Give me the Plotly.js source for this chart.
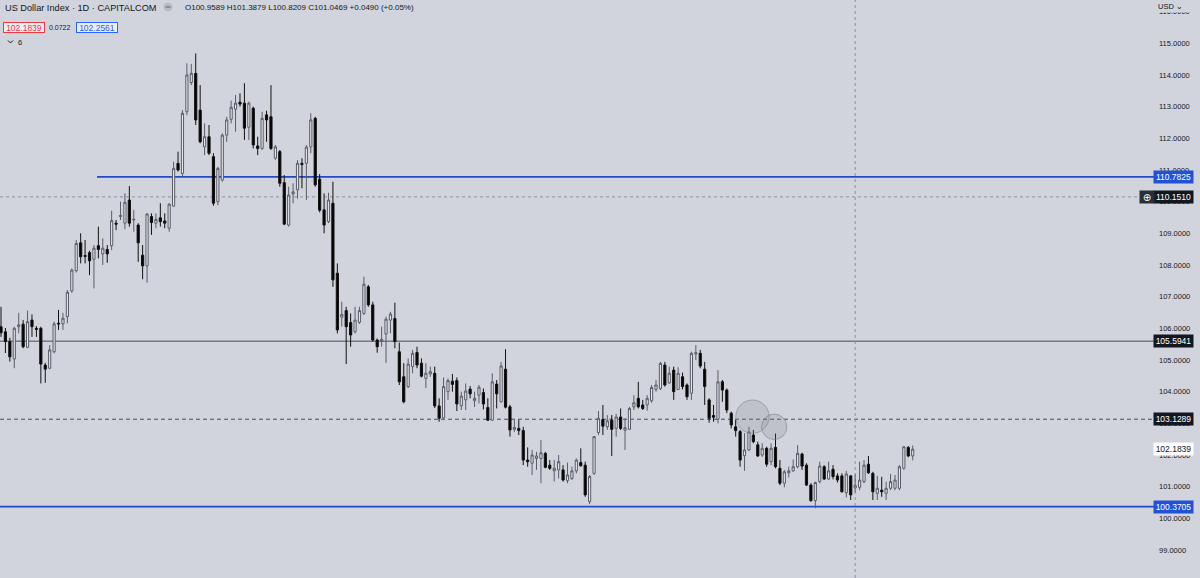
<!DOCTYPE html>
<html>
<head>
<meta charset="utf-8">
<script src="https://cdn.plot.ly/plotly-3.0.1.min.js"></script>
<style>
html,body{margin:0;padding:0;background:#d1d4dc;overflow:hidden;}
#chart{width:1200px;height:578px;}
</style>
</head>
<body>
<div id="chart"></div>
<script>
// ---- Data (daily candles) ----
const openP = [
106.05,105.89,105.58,105.03,106.05,106.13,105.40,106.26,106.00,106.00,
104.84,104.74,105.26,106.16,106.14,106.37,107.18,107.82,108.70,108.30,
108.39,108.18,108.61,108.35,108.49,108.61,109.32,109.53,109.32,110.05,
109.42,109.26,108.31,107.97,109.53,109.32,109.49,109.39,109.16,109.86,
111.21,110.89,112.84,113.76,114.05,112.89,111.73,112.05,111.42,110.00,
110.68,112.10,112.60,112.92,113.14,113.11,112.35,112.95,111.76,111.68,
112.74,112.68,111.37,111.58,110.60,109.26,110.24,110.37,111.21,111.21,
111.73,112.63,110.71,109.74,109.37,109.95,107.74,106.35,106.56,106.18,
105.89,106.19,106.47,107.31,106.74,105.63,105.58,105.82,106.26,106.31,
105.26,104.47,104.16,104.79,105.24,104.90,104.42,104.56,104.58,103.55,
103.17,104.00,104.33,104.35,103.55,103.74,104.08,103.71,103.89,103.97,
103.50,103.10,104.24,103.68,104.71,103.52,102.81,102.84,102.77,101.84,
101.74,101.89,101.89,102.05,101.68,101.50,101.53,101.53,101.19,101.26,
101.50,101.76,101.68,100.53,101.42,102.71,103.12,102.89,103.10,102.84,
103.20,102.78,102.81,103.52,103.79,103.58,103.58,103.71,104.07,104.10,
104.84,104.28,104.68,104.07,104.47,104.21,103.95,105.19,105.21,104.71,
103.74,103.25,103.13,104.31,104.05,103.32,102.89,102.74,101.98,102.16,
102.63,102.32,102.00,102.21,101.79,102.24,101.58,101.11,101.44,101.50,
101.63,102.03,101.68,101.05,100.56,101.16,101.63,101.24,101.55,101.34,
101.34,100.81,101.34,100.9589,100.98,101.16,101.71,101.42,100.79,100.89,
100.79,100.95,100.95,100.95,101.58,102.24,101.97
];
const highP = [
106.68,106.01,105.70,106.05,106.49,106.26,106.56,106.44,106.07,106.05,
104.91,105.47,106.21,106.58,106.49,107.21,107.89,108.79,109.00,108.79,
108.45,108.63,109.21,108.84,108.63,109.71,109.42,110.00,110.26,110.49,
109.74,109.32,108.63,109.63,109.63,109.63,109.95,109.63,109.95,111.26,
111.58,112.89,114.37,114.35,114.68,113.68,112.47,112.42,111.53,111.10,
112.16,112.68,113.19,113.37,113.42,113.74,113.16,113.00,112.05,112.84,
112.87,113.68,111.79,111.63,110.84,110.47,110.58,111.31,111.37,111.79,
112.79,112.68,110.87,110.26,110.28,110.63,108.05,106.84,106.68,106.47,
106.68,106.68,107.63,107.37,106.84,105.68,106.05,106.37,106.52,106.81,
105.55,104.90,105.05,105.32,105.42,105.05,104.90,104.79,104.79,103.79,
104.45,104.42,104.56,104.45,104.00,104.26,104.18,104.00,104.21,104.10,
103.79,104.58,104.37,104.94,105.34,103.58,103.11,103.11,102.89,102.24,
102.16,102.10,102.47,102.10,101.84,101.84,102.00,101.68,101.76,101.63,
101.89,102.21,101.79,101.37,102.60,103.39,103.58,103.26,103.26,103.30,
103.47,103.16,103.52,103.89,104.31,103.74,103.89,104.21,104.37,104.94,
104.94,104.79,104.79,104.77,104.60,104.26,105.26,105.47,105.32,104.94,
103.79,103.58,104.68,104.37,104.10,103.37,103.11,102.79,102.69,102.89,
102.79,102.42,102.37,102.26,102.37,102.68,101.84,101.53,101.63,101.86,
102.31,102.07,101.74,101.11,101.16,101.79,101.68,101.79,101.68,101.42,
101.42,101.50,101.37,101.3879,101.79,101.84,101.97,101.47,101.34,101.31,
101.16,101.40,101.37,101.68,102.28,102.28,102.30
];
const lowP = [
105.73,105.22,104.95,104.74,105.84,105.37,105.37,105.73,105.73,104.26,
104.28,104.71,105.21,105.95,105.95,106.16,107.12,107.76,108.05,108.05,
107.68,107.26,108.21,108.00,108.07,108.47,109.10,109.42,109.13,109.21,
109.05,108.10,107.55,107.44,108.95,109.16,109.21,109.16,109.05,109.84,
110.95,110.79,112.73,113.68,112.42,111.84,111.47,111.47,109.87,109.89,
110.63,111.89,112.47,112.21,113.00,111.95,111.95,111.68,111.47,111.63,
111.89,111.63,111.32,110.47,109.26,109.21,109.95,110.10,110.42,110.05,
111.53,110.47,109.66,109.00,109.32,107.31,105.84,106.05,104.87,105.42,
105.84,106.14,106.42,106.68,105.58,105.23,105.42,104.91,105.84,105.37,
104.21,103.63,104.11,104.58,104.74,104.45,104.11,104.47,103.48,103.05,
103.10,103.74,104.00,103.39,103.42,103.42,103.79,103.52,103.63,103.44,
103.08,103.08,103.47,103.65,103.47,102.58,102.73,102.63,101.68,101.63,
101.37,101.53,101.11,101.58,101.53,101.16,101.26,101.16,101.11,101.21,
101.42,101.63,100.68,100.45,101.37,102.63,102.63,102.79,101.97,102.58,
102.79,102.16,102.79,103.42,103.47,103.42,103.40,103.65,104.00,104.05,
104.16,104.24,103.74,104.05,104.07,103.74,103.74,105.00,104.74,103.58,
103.02,103.05,103.00,103.68,103.32,102.84,102.58,101.63,101.50,102.13,
102.37,101.94,101.94,101.63,101.68,101.58,101.05,100.98,101.29,101.47,
101.58,101.53,101.02,100.52,100.32,101.11,101.21,101.21,101.23,101.13,
100.81,100.66,100.58,100.8209,100.89,101.11,101.40,100.58,100.58,100.68,
100.58,100.89,100.89,100.89,101.53,101.93,101.83
];
const closeP = [
105.86,105.58,105.10,106.00,106.11,105.42,106.21,106.05,105.97,104.87,
104.71,105.32,106.14,106.14,106.32,107.14,107.84,108.68,108.26,108.27,
108.13,108.53,108.49,108.53,108.35,109.40,109.29,109.56,109.98,109.32,
109.44,108.70,107.97,109.61,109.34,109.44,109.37,109.32,109.92,111.05,
111.00,112.79,114.00,114.05,112.58,111.89,112.05,111.53,109.95,111.05,
112.10,112.58,112.98,113.11,113.08,112.32,113.11,111.79,111.68,112.63,
112.58,111.68,111.73,110.58,109.29,110.21,110.31,111.21,111.17,111.72,
112.58,110.53,109.73,109.26,110.05,107.53,105.95,106.44,106.05,105.79,
106.26,106.56,107.39,106.74,105.63,105.42,105.65,106.29,106.45,105.58,
104.31,103.68,104.87,105.21,104.84,104.49,104.58,104.63,103.55,103.16,
104.16,104.35,104.23,103.61,103.86,104.02,103.93,103.79,104.14,103.61,
103.10,104.31,103.93,104.81,103.51,102.79,102.87,102.77,101.84,101.79,
102.00,101.97,102.07,101.61,101.58,101.58,101.79,101.21,101.37,101.50,
101.84,101.66,100.74,101.32,102.58,103.16,102.91,103.08,102.81,103.20,
102.84,102.86,103.47,103.65,103.52,103.47,103.79,104.13,104.21,104.89,
104.21,104.58,104.00,104.58,104.16,103.84,105.21,105.23,104.81,104.16,
103.16,103.19,104.31,104.05,103.42,102.95,102.77,101.84,102.16,102.73,
102.42,101.97,102.21,101.71,102.21,101.63,101.11,101.47,101.50,101.63,
102.05,101.65,101.05,100.56,101.13,101.65,101.24,101.50,101.32,101.21,
100.84,101.40,100.74,101.0469,101.21,101.68,101.44,100.84,100.95,100.84,
100.95,101.16,101.21,101.63,102.26,101.97,102.1839
];
const barIndex = openP.map((_, i) => i);

// horizontal levels drawn by the user
const levels = [110.7825, 105.5941, 103.1289, 100.3705];
// crosshair
const crossBar = 193;
const crossPrice = 110.1510;
// header values
const symbolTitle = "US Dollar Index · 1D · CAPITALCOM";
const changeAbs = 0.0490, changePct = 0.05;
const bidPrice = 102.1839, spreadVal = 0.0722, askPrice = 102.2561;
const indicatorCount = 6;
const lastPrice = closeP[closeP.length - 1];
// y-axis ticks
const yTicks = [99,100,101,102,103,104,105,106,107,108,109,110,111,112,113,114,115,116];

// ---- Layout helpers ----
const W = 1154, H = 578;
const px = x => x / W;
const py = y => 1 - y / H;
const FONT = "Liberation Sans, Arial, sans-serif";
const TXT = "#131722";
const BLUE_LINE = "#2449c4";
const BLUE_BOX = "#2152d6";
const DARK = "#4a4d57";
const BG = "#d1d4dc";

const trace = {
  type: "candlestick",
  x: barIndex, open: openP, high: highP, low: lowP, close: closeP,
  increasing: {line: {color: "#5a5d68", width: 1}, fillcolor: "#e2e4e9"},
  decreasing: {line: {color: "#111111", width: 1}, fillcolor: "#000000"},
  whiskerwidth: 0,
  hoverinfo: "skip",
  showlegend: false
};

const lvlStyle = [
  {color: BLUE_LINE, width: 1.6, dash: "solid", x0: px(97)},
  {color: DARK, width: 1, dash: "solid", x0: 0},
  {color: DARK, width: 1, dash: "4px,3px", x0: 0},
  {color: BLUE_LINE, width: 1.6, dash: "solid", x0: 0}
];
const lvlBox = [
  {bg: BLUE_BOX, fg: "#ffffff"},
  {bg: "#131722", fg: "#ffffff"},
  {bg: "#131722", fg: "#ffffff"},
  {bg: BLUE_BOX, fg: "#ffffff"}
];

const shapes = [];
levels.forEach((v, i) => {
  shapes.push({type: "line", xref: "paper", yref: "y", x0: lvlStyle[i].x0, x1: 1, y0: v, y1: v,
    line: {color: lvlStyle[i].color, width: lvlStyle[i].width, dash: lvlStyle[i].dash}, layer: "below"});
});
// crosshair
shapes.push({type: "line", xref: "x", yref: "paper", x0: crossBar, x1: crossBar, y0: 0, y1: 1,
  line: {color: "#8e919b", width: 1, dash: "3px,3px"}, layer: "below"});
shapes.push({type: "line", xref: "paper", yref: "y", x0: 0, x1: px(1140), y0: crossPrice, y1: crossPrice,
  line: {color: "#8e919b", width: 1, dash: "3px,3px"}, layer: "below"});
// highlight circles drawn on chart
const circ = [{i: 169.8, p: 103.21, r: 16.7}, {i: 174.7, p: 102.89, r: 12.7}];
circ.forEach(c => {
  shapes.push({type: "circle", xref: "x", yref: "y", xsizemode: "pixel", ysizemode: "pixel",
    xanchor: c.i, yanchor: c.p, x0: -c.r, x1: c.r, y0: -c.r, y1: c.r,
    fillcolor: "rgba(130,133,143,0.22)", line: {color: "rgba(120,123,134,0.55)", width: 1}, layer: "above"});
});
// header icon (minus in circle)
shapes.push({type: "circle", xref: "paper", yref: "paper", x0: px(163.5), x1: px(172.5), y0: py(11.5), y1: py(2.5),
  fillcolor: "#b9bcc5", line: {width: 0}});
shapes.push({type: "line", xref: "paper", yref: "paper", x0: px(165.5), x1: px(170.5), y0: py(7), y1: py(7),
  line: {color: "#5d606b", width: 1}});
// chevrons
shapes.push({type: "path", xref: "paper", yref: "paper",
  path: `M ${px(8)} ${py(40.5)} L ${px(10.5)} ${py(43)} L ${px(13)} ${py(40.5)}`,
  line: {color: TXT, width: 1}});

const annotations = [];
const f4 = v => v.toFixed(4);
annotations.push({xref: "paper", yref: "paper", x: px(3), y: py(7.5), xanchor: "left", yanchor: "middle",
  text: symbolTitle, showarrow: false, font: {family: FONT, size: 9.2, color: TXT}});
const ohlcText = `O${f4(openP[crossBar])} H${f4(highP[crossBar])} L${f4(lowP[crossBar])} C${f4(closeP[crossBar])} +${f4(changeAbs)} (+${changePct.toFixed(2)}%)`;
annotations.push({xref: "paper", yref: "paper", x: px(183), y: py(7.5), xanchor: "left", yanchor: "middle",
  text: ohlcText, showarrow: false, font: {family: FONT, size: 8, color: TXT}});
annotations.push({xref: "paper", yref: "paper", x: px(24), y: py(27), xanchor: "center", yanchor: "middle",
  text: f4(bidPrice), showarrow: false, width: 40, height: 9, borderpad: 0, borderwidth: 1,
  bordercolor: "#f23645", bgcolor: "#eceef2", font: {family: FONT, size: 8.5, color: "#f23645"}});
annotations.push({xref: "paper", yref: "paper", x: px(60), y: py(27), xanchor: "center", yanchor: "middle",
  text: f4(spreadVal), showarrow: false, font: {family: FONT, size: 7, color: TXT}});
annotations.push({xref: "paper", yref: "paper", x: px(97), y: py(27), xanchor: "center", yanchor: "middle",
  text: f4(askPrice), showarrow: false, width: 40, height: 9, borderpad: 0, borderwidth: 1,
  bordercolor: "#2962ff", bgcolor: "#eceef2", font: {family: FONT, size: 8.5, color: "#2962ff"}});
annotations.push({xref: "paper", yref: "paper", x: px(16), y: py(42), xanchor: "left", yanchor: "middle",
  text: String(indicatorCount), showarrow: false, font: {family: FONT, size: 7.5, color: TXT}});

// price-scale labels
levels.forEach((v, i) => {
  annotations.push({xref: "paper", yref: "y", x: px(1173.5), y: v, xanchor: "center", yanchor: "middle",
    text: f4(v), showarrow: false, width: 39, height: 12, borderpad: 0, bgcolor: lvlBox[i].bg,
    font: {family: FONT, size: 8.5, color: lvlBox[i].fg}});
});
annotations.push({xref: "paper", yref: "y", x: px(1173.5), y: lastPrice, xanchor: "center", yanchor: "middle",
  text: f4(lastPrice), showarrow: false, width: 39, height: 12, borderpad: 0, bgcolor: "#ffffff",
  font: {family: FONT, size: 8.5, color: TXT}});
annotations.push({xref: "paper", yref: "y", x: px(1173.5), y: crossPrice, xanchor: "center", yanchor: "middle",
  text: f4(crossPrice), showarrow: false, width: 39, height: 12, borderpad: 0, bgcolor: "#131722",
  font: {family: FONT, size: 8.5, color: "#ffffff"}});
annotations.push({xref: "paper", yref: "y", x: px(1147), y: crossPrice, xanchor: "center", yanchor: "middle",
  text: "⊕", showarrow: false, width: 14, height: 12, borderpad: 0, bgcolor: "#2a2e39",
  font: {family: "DejaVu Sans, sans-serif", size: 10, color: "#ffffff"}});
// currency selector at top of price scale (covers upper part of the top tick label, as in the reference)
annotations.push({xref: "paper", yref: "paper", x: px(1157), y: py(0), xanchor: "left", yanchor: "top",
  text: "USD ⌄", align: "left", showarrow: false, width: 42, height: 11, borderpad: 0, bgcolor: BG,
  font: {family: FONT, size: 7.5, color: TXT}});

const spacing = 4.4257;
const x0 = -1 / spacing;
const layout = {
  width: 1200, height: 578,
  margin: {l: 0, r: 1200 - W, t: 0, b: 0, pad: 0},
  paper_bgcolor: BG, plot_bgcolor: BG,
  showlegend: false,
  dragmode: false,
  xaxis: {range: [x0, x0 + W / spacing], visible: false, rangeslider: {visible: false}, fixedrange: true},
  yaxis: {side: "right", range: [98.116, 116.367], tickvals: yTicks, ticktext: yTicks.map(f4),
    showgrid: false, zeroline: false, showline: false, ticks: "", ticklabelstandoff: 4,
    tickfont: {family: FONT, size: 7.5, color: TXT}, fixedrange: true},
  shapes: shapes,
  annotations: annotations
};

Plotly.newPlot("chart", [trace], layout, {displayModeBar: false, staticPlot: true});
</script>
</body>
</html>
